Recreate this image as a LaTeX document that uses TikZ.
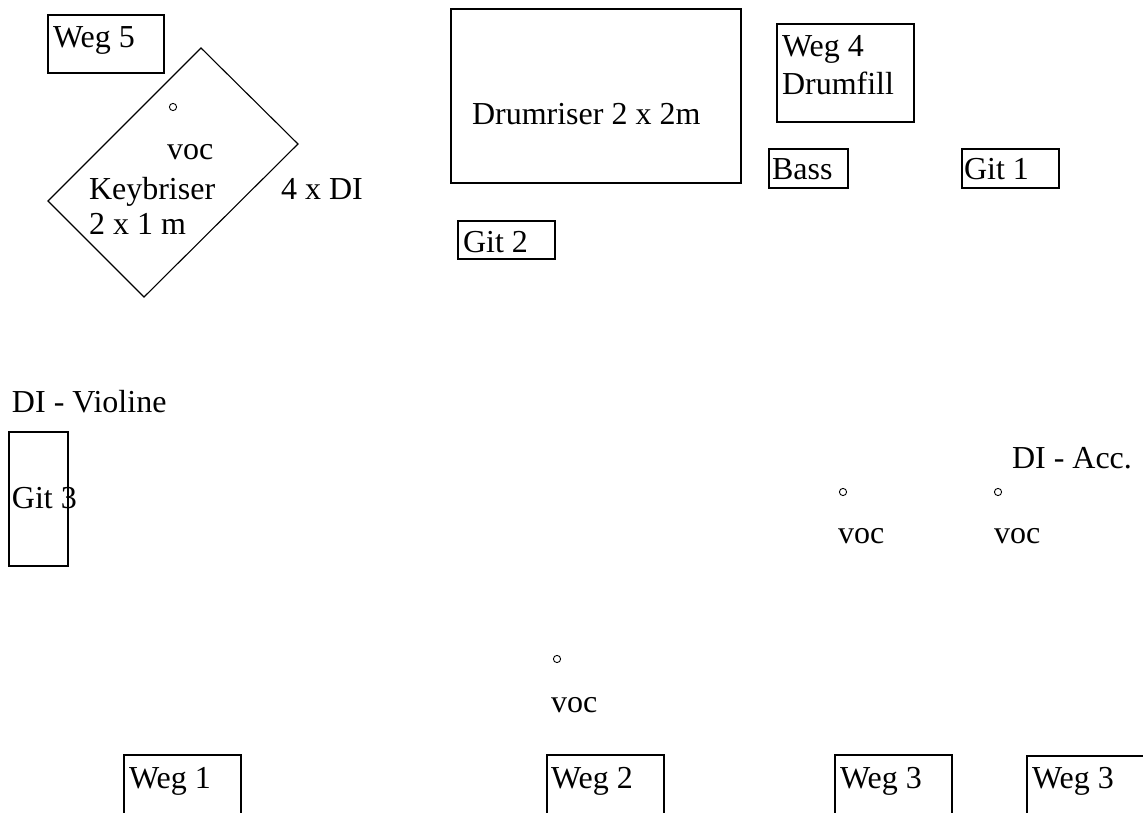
\documentclass[tikz,border=0pt]{standalone}
\usepackage{fontspec}
\setmainfont{Liberation Serif}
\begin{document}
\begin{tikzpicture}[x=1pt,y=-1pt,
  box/.style={draw=black,line width=1.1pt},
  lbl/.style={anchor=base west,inner sep=0pt,outer sep=0pt,font=\fontsize{32}{36}\selectfont},
  mic/.style={draw=black,line width=0.9pt}]
\useasboundingbox (0,0) rectangle (1143,813);
\clip (0,0) rectangle (1143,813);
% Weg 5
\draw[box] (48,15) rectangle (164,73);
\node[lbl] (weg5) at (53,48) {Weg 5};
% Keybriser
\draw[box] (201,48) -- (298,144) -- (144,297) -- (48,201) -- cycle;
\draw[mic] (173,107) circle (3.6);
\node[lbl] (voc0) at (167,160) {voc};
\node[lbl] (key) at (89,200) {Keybriser};
\node[lbl] (keysz) at (89,235) {2 x 1 m};
\node[lbl] (di4) at (281,200) {4 x DI};
% Drumriser
\draw[box] (451,9) rectangle (741,183);
\node[lbl] (drum) at (472,125) {Drumriser 2 x 2m};
% Git 2
\draw[box] (458,221) rectangle (555,259);
\node[lbl] (git2) at (463,252) {Git 2};
% Weg 4
\draw[box] (777,24) rectangle (914,122);
\node[lbl] (weg4) at (782,57) {Weg 4};
\node[lbl] (weg4b) at (782,95) {Drumfill};
% Bass, Git 1
\draw[box] (769,149) rectangle (848,188);
\node[lbl] (bass) at (772,180) {Bass};
\draw[box] (962,149) rectangle (1059,188);
\node[lbl] (git1) at (964,180) {Git 1};
% Violine / Git 3
\node[lbl] (divio) at (12,412) {DI - Violine};
\draw[box] (9,432) rectangle (68,566);
\node[lbl] (git3) at (12,508) {Git 3};
% DI Acc, vocs
\node[lbl] (diacc) at (1012,468) {DI - Acc.};
\draw[mic] (843,492) circle (3.6);
\draw[mic] (998,492) circle (3.6);
\node[lbl] (voc1) at (838,543) {voc};
\node[lbl] (voc2) at (994,543) {voc};
\draw[mic] (557,659) circle (3.6);
\node[lbl] (voc3) at (551,712) {voc};
% Wedges
\draw[box] (124,755) rectangle (241,830);
\node[lbl] (weg1) at (129,788) {Weg 1};
\draw[box] (547,755) rectangle (664,830);
\node[lbl] (weg2) at (551,788) {Weg 2};
\draw[box] (835,755) rectangle (952,830);
\node[lbl] (weg3a) at (840,788) {Weg 3};
\draw[box] (1027,756) rectangle (1160,830);
\node[lbl] (weg3b) at (1032,788) {Weg 3};
\end{tikzpicture}
\end{document}
